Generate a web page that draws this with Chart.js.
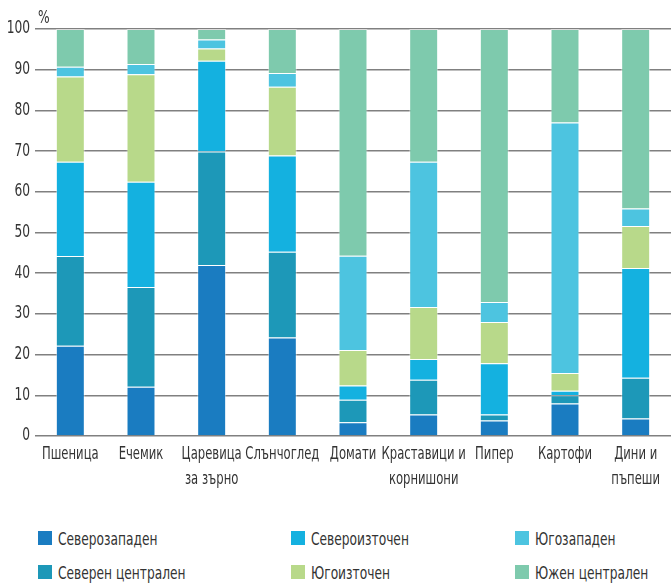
<!DOCTYPE html>
<html>
<head>
<meta charset="utf-8">
<script src="https://cdn.jsdelivr.net/npm/chart.js@4"></script>
<style>
    body { margin: 0; background: #fff; }
    #wrap { position: relative; width: 671px; height: 584px; font-family: "Liberation Sans Narrow", "DejaVu Sans Condensed", "Roboto", sans-serif; color: #333; }
    #box { position: absolute; left: 0; top: 0; width: 671px; height: 500px; }
    #pct { position: absolute; left: 38px; top: 7px; font-size: 17px; transform: scaleX(0.8); transform-origin: left; }
    .sq { position: absolute; width: 14px; height: 14px; }
    .txt { position: absolute; font-size: 17px; line-height: 20px; white-space: nowrap; transform: scaleX(0.8); transform-origin: left; }
</style>
</head>
<body>
<div id="wrap">
    <div id="box"><canvas id="myChart"></canvas></div>
    <div id="pct">%</div>
    <div id="legend"></div>
</div>
<script>
// Категории и стойности (в %)
const categories = [
    'Пшеница', 'Ечемик', ['Царевица', 'за зърно'], 'Слънчоглед', 'Домати',
    ['Краставици и', 'корнишони'], 'Пипер', 'Картофи', ['Дини и', 'пъпеши']
];
const severozapaden   = [22.2, 12.1, 42.0, 24.2, 3.4, 5.3, 3.8, 8.0, 4.3];
const severenCentr    = [22.0, 24.5, 27.9, 21.1, 5.5, 8.5, 1.5, 2.0, 10.0];
const severoiztochen  = [23.2, 25.9, 22.3, 23.6, 3.5, 5.1, 12.6, 1.1, 27.0];
const yugoiztochen    = [20.9, 26.4, 3.0, 16.9, 8.7, 12.8, 10.1, 4.4, 10.3];
const yugozapaden     = [2.4, 2.5, 2.2, 3.4, 23.2, 35.7, 4.9, 61.5, 4.3];
const yuzhenCentr     = [9.3, 8.6, 2.6, 10.8, 55.7, 32.6, 67.1, 23.0, 44.1];
const yTicks = [0, 10, 20, 30, 40, 50, 60, 70, 80, 90, 100];

const series = [
    { label: 'Северозападен', data: severozapaden, color: '#1a7cc1' },
    { label: 'Северен централен', data: severenCentr, color: '#1d98b8' },
    { label: 'Североизточен', data: severoiztochen, color: '#14b1e0' },
    { label: 'Югоизточен', data: yugoiztochen, color: '#b8d98a' },
    { label: 'Югозападен', data: yugozapaden, color: '#4dc4e0' },
    { label: 'Южен централен', data: yuzhenCentr, color: '#7ecaad' }
];

const fontFam = '"Liberation Sans Narrow", "DejaVu Sans Condensed", "Roboto", sans-serif';

// текст, свит по хоризонтала (condensed шрифт)
function drawNarrow(ctx, t, x, y, align, sx) {
    ctx.save();
    ctx.translate(x, y);
    ctx.scale(sx, 1);
    ctx.textAlign = align;
    ctx.fillText(t, 0, 0);
    ctx.restore();
}

const labelPlugin = {
    id: 'narrowLabels',
    afterDraw(chart) {
        const ctx = chart.ctx;
        const xs = chart.scales.x, ys = chart.scales.y;
        const area = chart.chartArea;
        ctx.save();
        ctx.fillStyle = '#333';
        ctx.font = '17px ' + fontFam;
        ctx.textBaseline = 'middle';
        categories.forEach((lab, i) => {
            const lines = Array.isArray(lab) ? lab : [lab];
            lines.forEach((t, j) => drawNarrow(ctx, t, xs.getPixelForValue(i), area.bottom + 19 + j * 25, 'center', 0.76));
        });
        yTicks.forEach(v => drawNarrow(ctx, String(v), area.left - 5, ys.getPixelForValue(v), 'right', 0.8));
        ctx.restore();
    }
};

new Chart(document.getElementById('myChart'), {
    type: 'bar',
    data: {
        labels: categories,
        datasets: series.map(s => ({
            label: s.label,
            data: s.data,
            backgroundColor: s.color,
            borderColor: 'rgba(255,255,255,0.45)',
            borderWidth: 1,
            barPercentage: 0.41,
            categoryPercentage: 1
        }))
    },
    options: {
        responsive: true,
        maintainAspectRatio: false,
        animation: false,
        layout: { padding: { top: 29, right: 0, left: 0, bottom: 64 } },
        plugins: { legend: { display: false }, tooltip: { enabled: false } },
        scales: {
            x: {
                stacked: true,
                grid: { display: false },
                border: { display: false },
                ticks: { display: false },
                afterFit: axis => { axis.height = 0; }
            },
            y: {
                stacked: true,
                min: 0,
                max: 100,
                afterBuildTicks: axis => { axis.ticks = yTicks.map(v => ({ value: v })); },
                grid: { color: '#808080', lineWidth: 1.5, drawTicks: false },
                border: { display: false },
                ticks: { display: false },
                afterFit: axis => { axis.width = 35; }
            }
        }
    },
    plugins: [labelPlugin]
});

// Легенда в три колони
const legendOrder = [
    ['Северозападен', 38, 531], ['Североизточен', 291, 531], ['Югозападен', 515, 531],
    ['Северен централен', 38, 565], ['Югоизточен', 291, 565], ['Южен централен', 515, 565]
];
const legendEl = document.getElementById('legend');
legendOrder.forEach(item => {
    const s = series.find(x => x.label === item[0]);
    const sq = document.createElement('div');
    sq.className = 'sq';
    sq.style.left = item[1] + 'px';
    sq.style.top = item[2] + 'px';
    sq.style.background = s.color;
    const t = document.createElement('div');
    t.className = 'txt';
    t.style.left = (item[1] + 20) + 'px';
    t.style.top = (item[2] - 2) + 'px';
    t.textContent = s.label;
    legendEl.appendChild(sq);
    legendEl.appendChild(t);
});
</script>
</body>
</html>
